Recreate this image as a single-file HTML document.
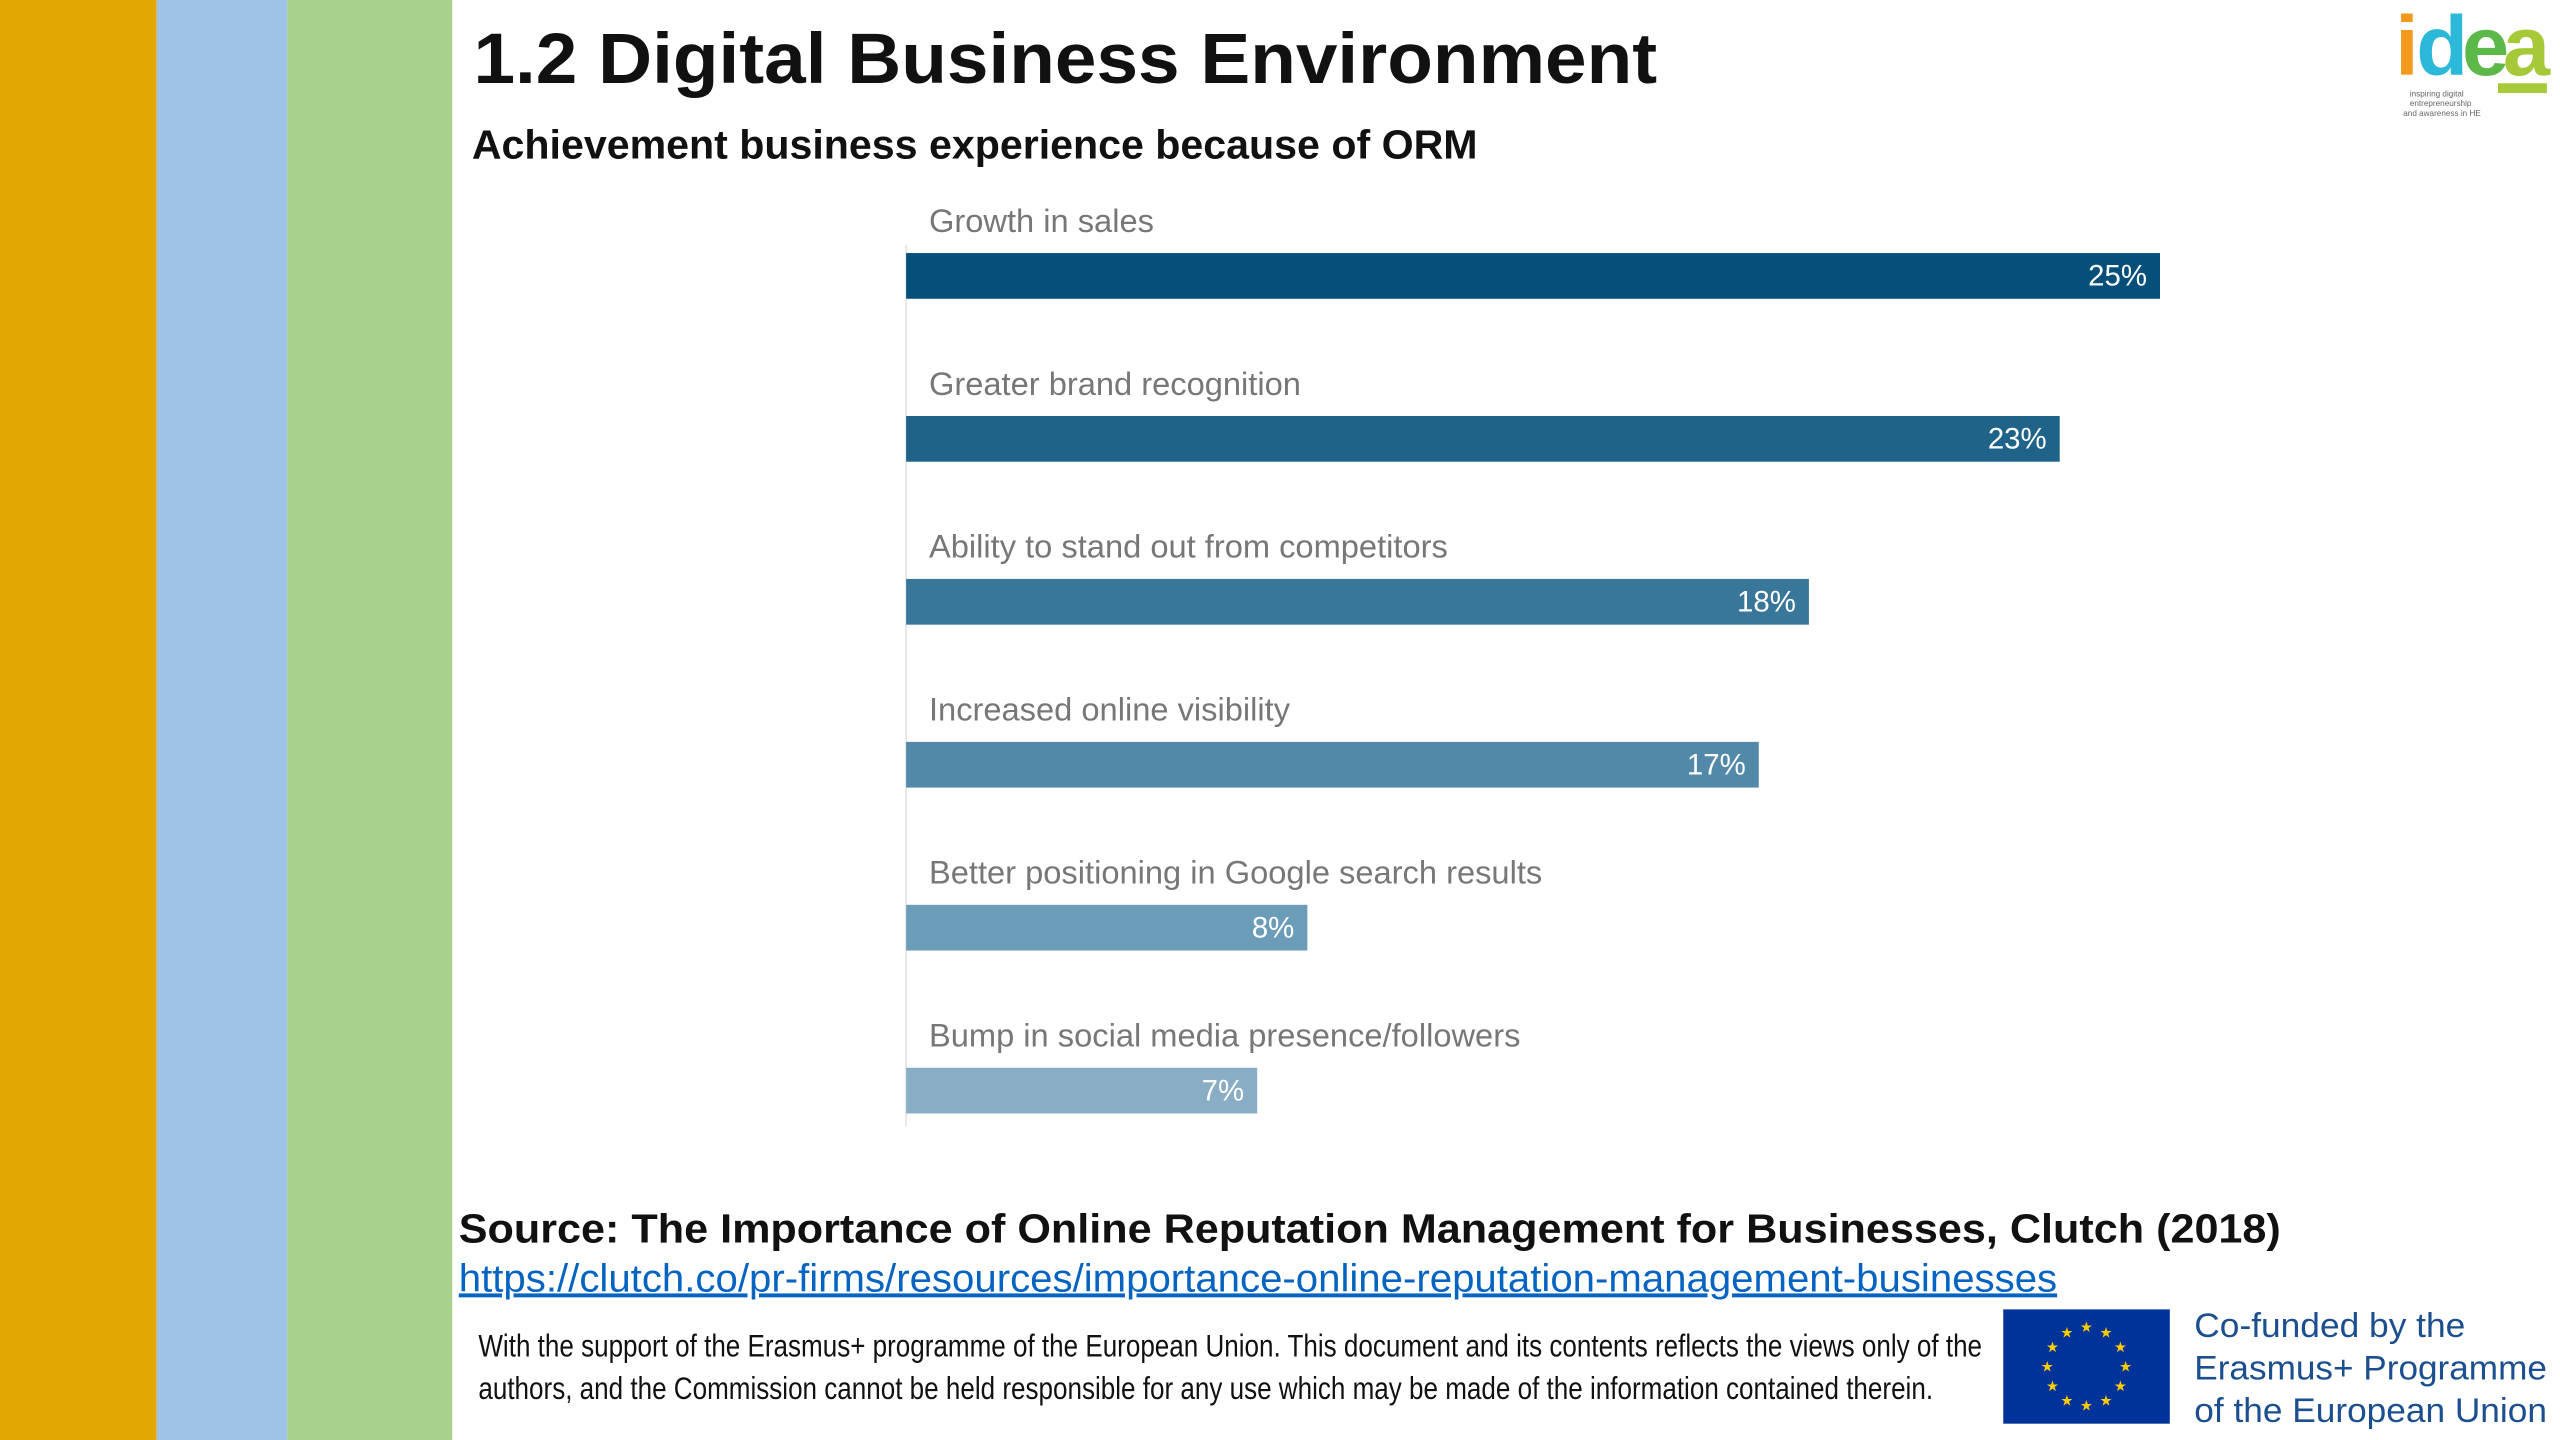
<!DOCTYPE html>
<html><head><meta charset="utf-8"><style>
html,body{margin:0;padding:0;background:#fff;}
svg{display:block;}
text{font-family:"Liberation Sans",sans-serif;}
</style></head><body>
<svg width="2560" height="1440" viewBox="0 0 1568 882" xmlns="http://www.w3.org/2000/svg">
<rect x="0" y="0" width="1568" height="882" fill="#fff"/>
<rect x="0" y="0" width="96" height="882" fill="#e0a800"/>
<rect x="96" y="0" width="80" height="882" fill="#9fc3e7"/>
<rect x="176" y="0" width="101" height="882" fill="#a9d18e"/>

<text x="290" y="51" font-size="44" font-weight="bold" fill="#111" textLength="725" lengthAdjust="spacingAndGlyphs">1.2 Digital Business Environment</text>
<text x="289" y="97" font-size="25" font-weight="bold" fill="#111" textLength="616" lengthAdjust="spacingAndGlyphs">Achievement business experience because of ORM</text>

<g>
<text x="1467" y="46" font-size="52" font-weight="bold" fill="#f39a1e" letter-spacing="-2">i</text>
<text x="1480" y="46" font-size="52" font-weight="bold" fill="#2bb8d9" letter-spacing="-2">d</text>
<text x="1508" y="46" font-size="52" font-weight="bold" fill="#5cb848" letter-spacing="-2">e</text>
<text x="1533" y="46" font-size="52" font-weight="bold" fill="#a6c93a" letter-spacing="-2">a</text>
<rect x="1530" y="51" width="30" height="6" fill="#a6c93a"/>
<text x="1476" y="59" font-size="5" fill="#666">inspiring digital</text>
<text x="1476" y="65" font-size="5" fill="#666">entrepreneurship</text>
<text x="1472" y="71" font-size="5" fill="#666">and awareness in HE</text>
</g>

<g id="chart"></g>

<text x="281" y="761" font-size="25" font-weight="bold" fill="#111" textLength="1116" lengthAdjust="spacingAndGlyphs">Source: The Importance of Online Reputation Management for Businesses, Clutch (2018)</text>
<text x="281" y="791" font-size="24" fill="#0563c1" text-decoration="underline" textLength="979" lengthAdjust="spacingAndGlyphs">https://clutch.co/pr-firms/resources/importance-online-reputation-management-businesses</text>

<text x="293" y="831" font-size="19" fill="#111" textLength="921" lengthAdjust="spacingAndGlyphs">With the support of the Erasmus+ programme of the European Union. This document and its contents reflects the views only of the</text>
<text x="293" y="857" font-size="19" fill="#111" textLength="891" lengthAdjust="spacingAndGlyphs">authors, and the Commission cannot be held responsible for any use which may be made of the information contained therein.</text>

<g>
<rect x="1227" y="802" width="102" height="70" fill="#003399"/>
<g id="stars" fill="#ffcc00"></g>
</g>
<text x="1344" y="819" font-size="21" fill="#1b4f8f" textLength="166" lengthAdjust="spacingAndGlyphs">Co-funded by the</text>
<text x="1344" y="845" font-size="21" fill="#1b4f8f" textLength="216" lengthAdjust="spacingAndGlyphs">Erasmus+ Programme</text>
<text x="1344" y="871" font-size="21" fill="#1b4f8f" textLength="216" lengthAdjust="spacingAndGlyphs">of the European Union</text>
</svg>
<script>
const categories = ["Growth in sales","Greater brand recognition","Ability to stand out from competitors","Increased online visibility","Better positioning in Google search results","Bump in social media presence/followers"];
const values = [25,23,18,17,8,7];
const valueLabels = ["25%","23%","18%","17%","8%","7%"];
const colors = ["#054f7a","#1f6389","#387799","#5288a8","#6c9db8","#88adc5"];

const NS="http://www.w3.org/2000/svg";
const g=document.getElementById('chart');
const x0=555, pxPer=(1323-555)/25;
const xScale=v=>x0+v*pxPer;
const yTop=i=>155+i*99.8;
function mk(t,a){const e=document.createElementNS(NS,t);for(const k in a)e.setAttribute(k,a[k]);g.appendChild(e);return e;}
const ax=mk('line',{x1:x0,x2:x0,y1:150,y2:690,stroke:'#e4e4e4','stroke-width':1});


categories.forEach((c,i)=>{
  const y=yTop(i);
  const lbl=mk('text',{x:569,y:y-13,'font-size':20,fill:'#777'});
  lbl.textContent=c;
  
  
  const w=xScale(values[i])-x0;
  const r=mk('rect',{x:x0,y:y,width:w,height:28,fill:colors[i]});
  
  
  const v=mk('text',{x:xScale(values[i])-8,y:y+20,'font-size':18,fill:'#fff','text-anchor':'end'});
  v.textContent=valueLabels[i];
  
  
});
const s=document.getElementById('stars');
for(let k=0;k<12;k++){
  const a=k*Math.PI/6;
  const cx=1278+24*Math.sin(a), cy=837-24*Math.cos(a);
  const t=document.createElementNS(NS,'text');
  t.setAttribute('x',cx);t.setAttribute('y',cy+3);
  t.setAttribute('font-size',9);t.setAttribute('text-anchor','middle');t.setAttribute('fill','#ffcc00');
  t.textContent='★';
  s.appendChild(t);
}
</script>
</body></html>
